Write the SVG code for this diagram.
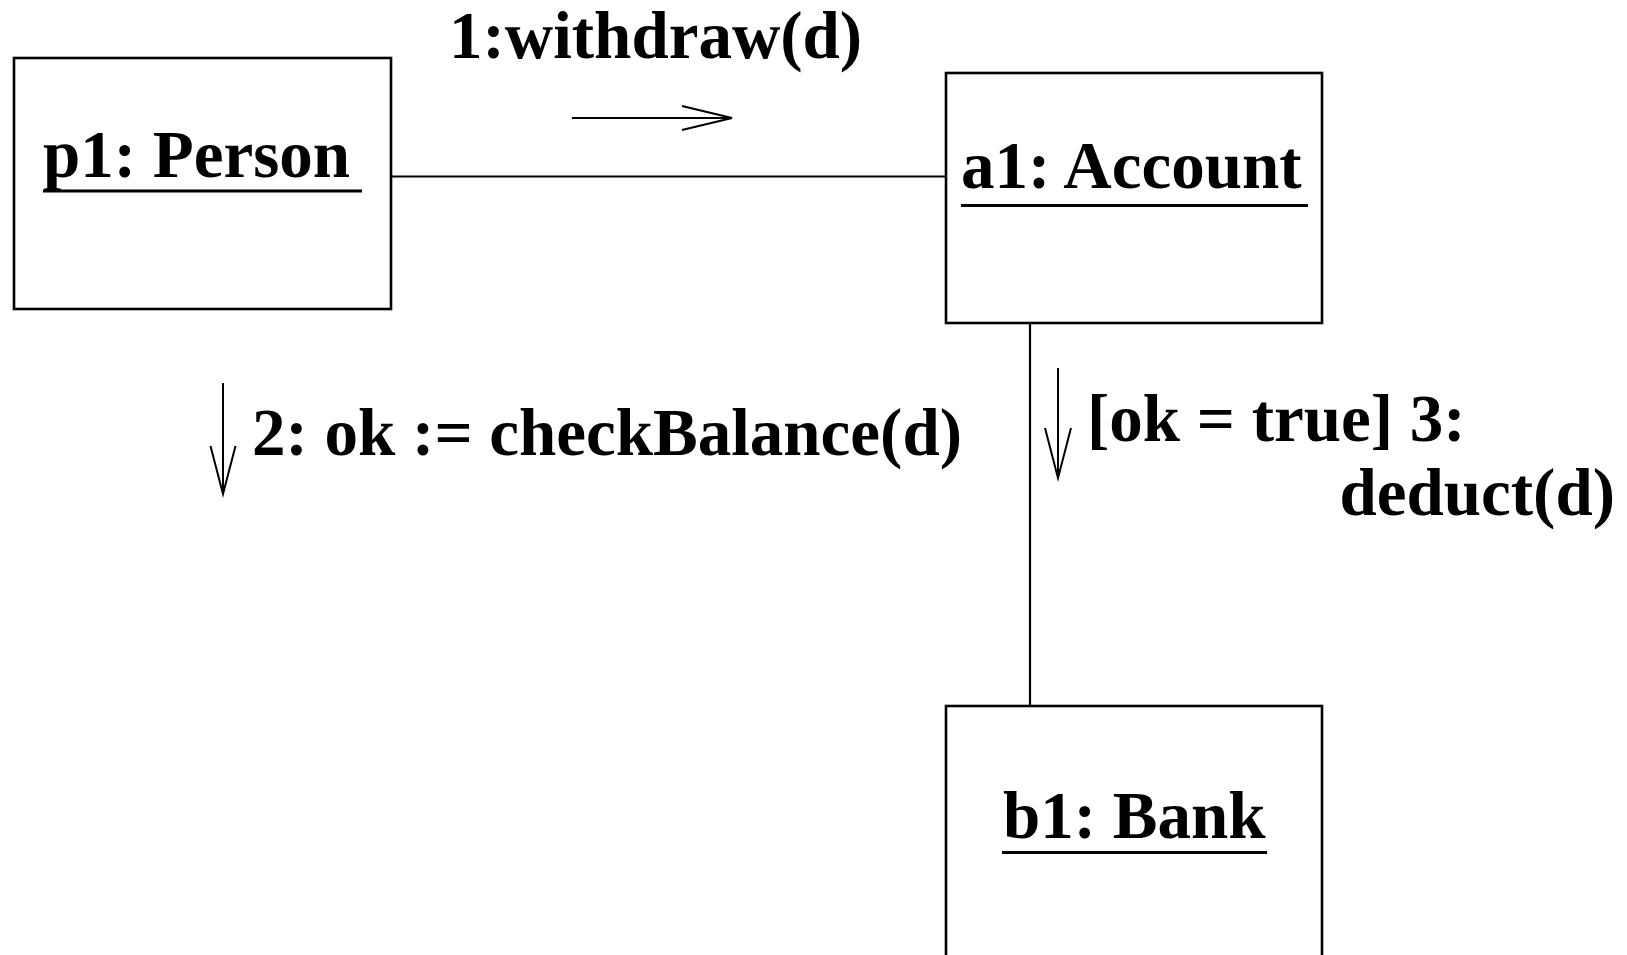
<svg xmlns="http://www.w3.org/2000/svg" width="1627" height="955" viewBox="0 0 1627 955">
  <style>
    .box { fill: #ffffff; stroke: #000000; stroke-width: 2.6; }
    .link { fill: none; stroke: #000000; stroke-width: 2.2; }
    .msg { fill: none; stroke: #000000; stroke-width: 2; }
    .uline { stroke: #000000; stroke-width: 3; }
    text { font-family: "Liberation Serif", "Times New Roman", serif; font-weight: bold; font-size: 67px; fill: #000000; }
  </style>
  <rect x="0" y="0" width="1627" height="955" fill="#ffffff"/>

  <!-- associations between objects -->
  <g id="connectors">
    <line class="link" x1="391" y1="176.5" x2="946" y2="176.5"/>
    <line class="link" x1="1030" y1="323" x2="1030" y2="706"/>

    <!-- message 1 -->
    <line class="msg" x1="572" y1="118" x2="732" y2="118"/>
    <polyline class="msg" points="682,106 732,118 682,130"/>
    <text x="449" y="58">1:withdraw(d)</text>

    <!-- message 2 -->
    <line class="msg" x1="223" y1="383" x2="223" y2="494"/>
    <polyline class="msg" points="210.5,446 223,494 235.5,446"/>
    <text x="252" y="455">2: ok := checkBalance(d)</text>

    <!-- message 3 -->
    <line class="msg" x1="1058" y1="368" x2="1058" y2="478"/>
    <polyline class="msg" points="1045,428 1058,478 1071,428"/>
    <text x="1087" y="441">[ok = true] 3:</text>
    <text x="1615" y="515" text-anchor="end">deduct(d)</text>
  </g>

  <g id="p1">
    <rect class="box" x="14" y="58" width="377" height="251"/>
    <text x="43" y="177">p1: Person</text>
    <line class="uline" x1="43" y1="191" x2="362" y2="191"/>
  </g>

  <g id="a1">
    <rect class="box" x="946" y="73" width="376" height="250"/>
    <text x="961" y="188">a1: Account</text>
    <line class="uline" x1="961" y1="205.5" x2="1308" y2="205.5"/>
  </g>

  <g id="b1">
    <rect class="box" x="946" y="706" width="376" height="260"/>
    <text x="1003" y="838">b1: Bank</text>
    <line class="uline" x1="1002" y1="852.5" x2="1267" y2="852.5"/>
  </g>
</svg>
